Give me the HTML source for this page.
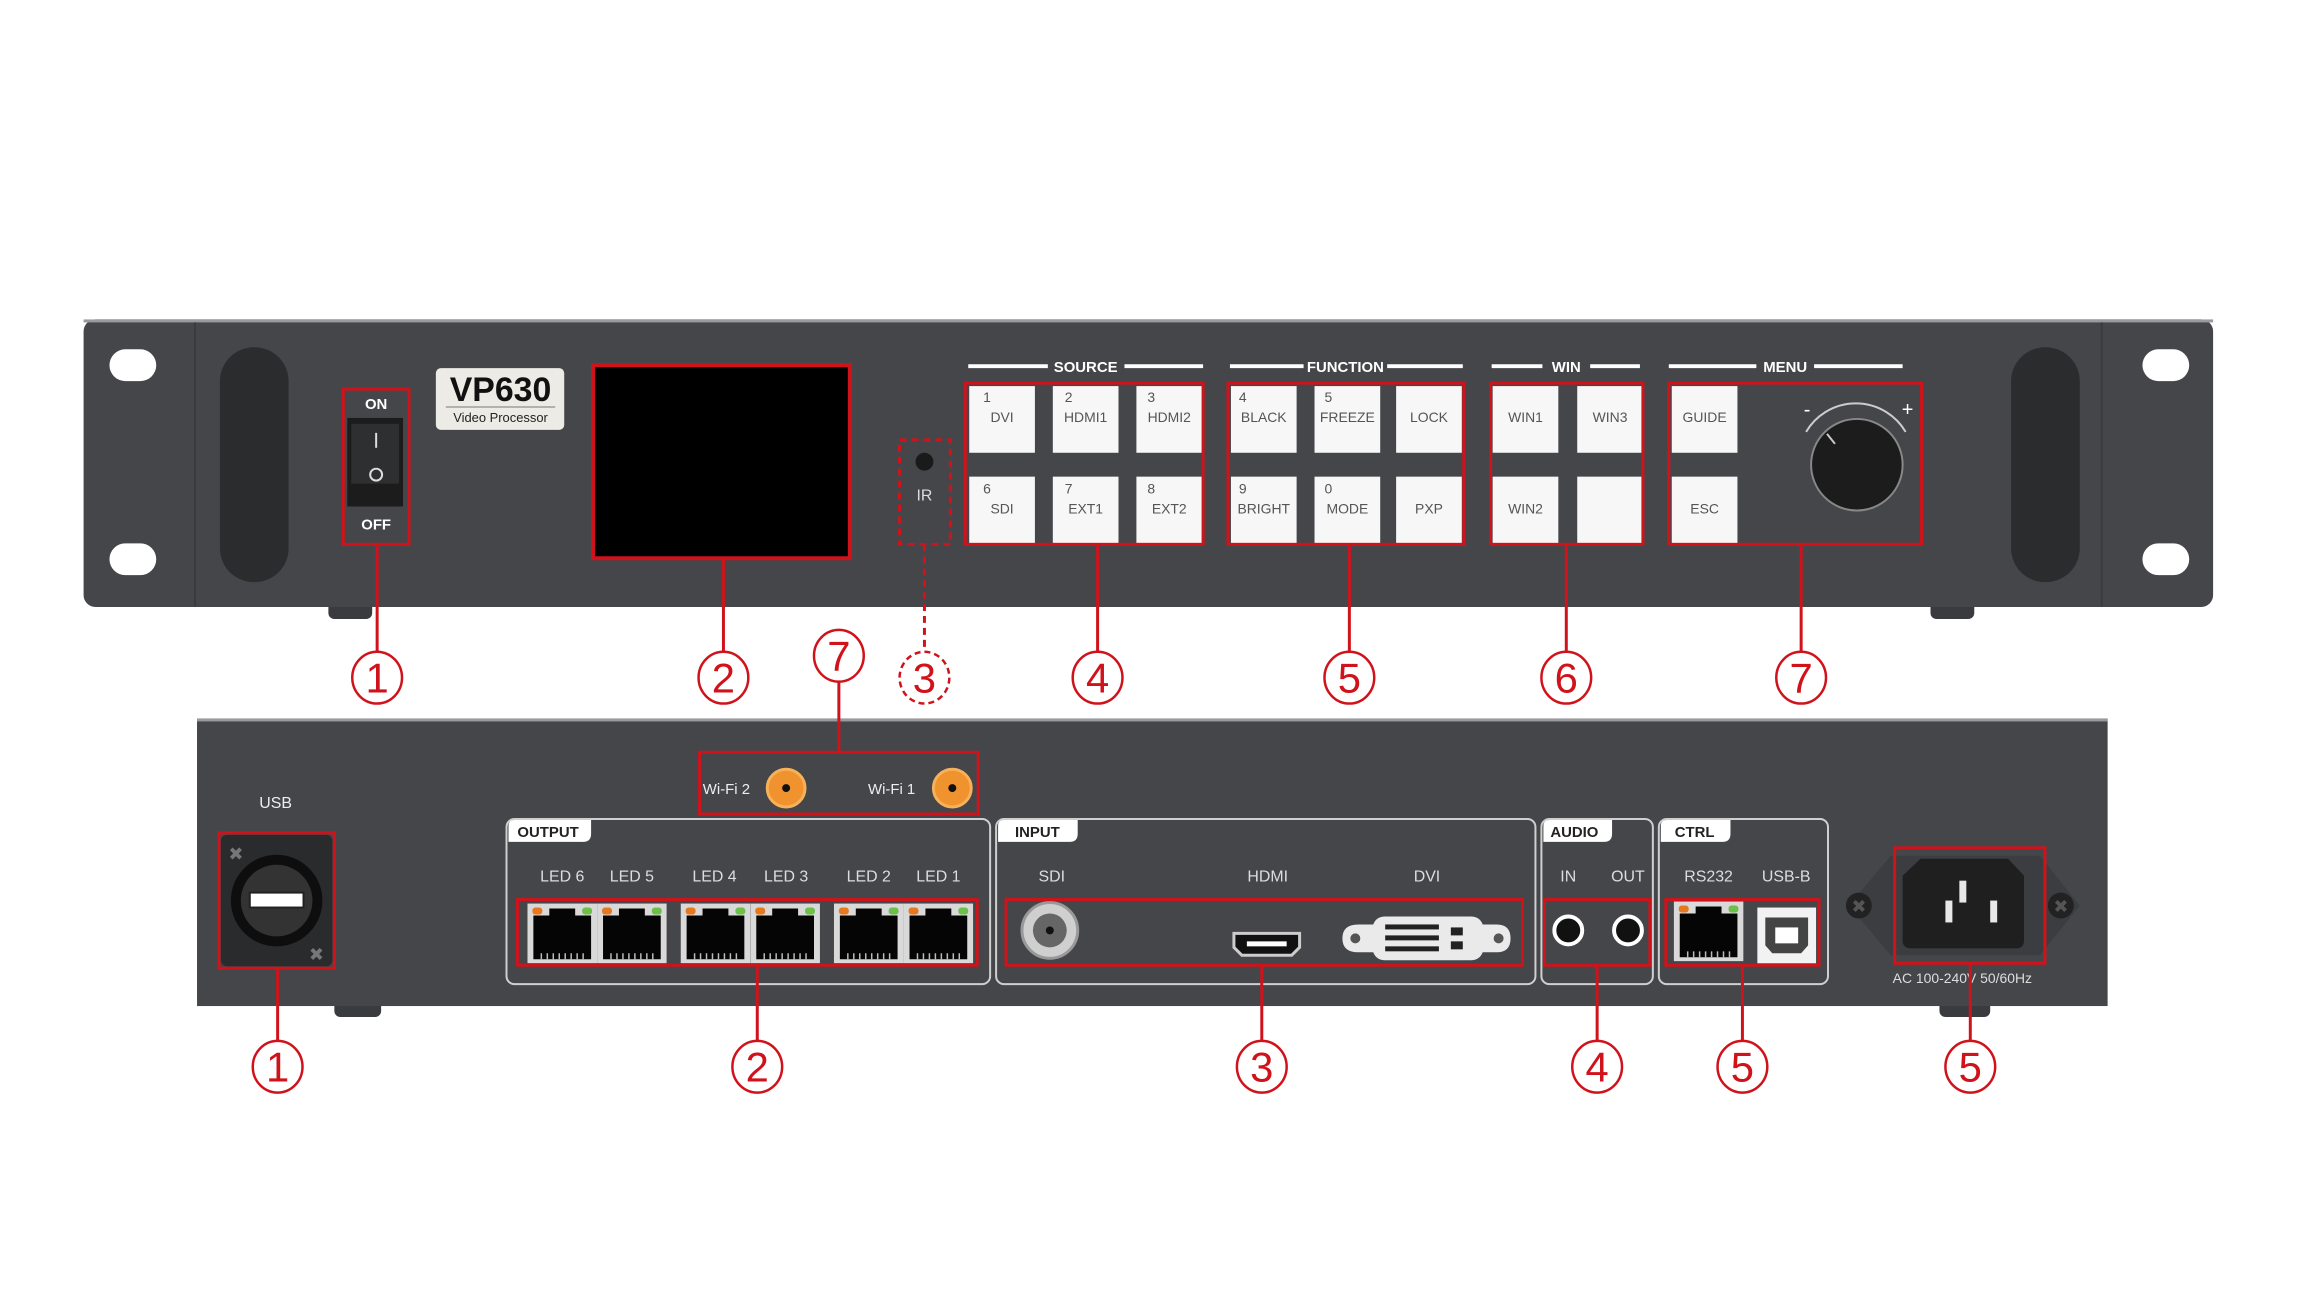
<!DOCTYPE html>
<html><head><meta charset="utf-8"><style>
html,body{margin:0;padding:0;background:#fff;}
svg{display:block;}
text{font-family:"Liberation Sans",sans-serif;}
</style></head><body>
<svg width="2300" height="1310" viewBox="0 0 2300 1310" xmlns="http://www.w3.org/2000/svg">
<defs>
<symbol id="rj" viewBox="0 0 70 60">
<rect x="0" y="0" width="70" height="60" fill="#d9d9d9"/>
<path d="M6 12 H22 V5 H48 V12 H64 V56 H6 Z" fill="#050505"/>
<rect x="5" y="4" width="10" height="7" rx="3" fill="#e8781e"/>
<rect x="55" y="4" width="10" height="7" rx="3" fill="#6cc04a"/>
<g stroke="#bbb" stroke-width="1.5"><line x1="14" y1="50" x2="14" y2="56"/><line x1="20" y1="50" x2="20" y2="56"/><line x1="26" y1="50" x2="26" y2="56"/><line x1="32" y1="50" x2="32" y2="56"/><line x1="38" y1="50" x2="38" y2="56"/><line x1="44" y1="50" x2="44" y2="56"/><line x1="50" y1="50" x2="50" y2="56"/><line x1="56" y1="50" x2="56" y2="56"/></g>
</symbol>
</defs>
<g transform="scale(0.9951)">
<!-- FRONT PANEL -->
<rect x="330" y="600" width="44" height="22" rx="6" fill="#3a3b3e"/>
<rect x="1940" y="600" width="44" height="22" rx="6" fill="#3a3b3e"/>
<rect x="84" y="321" width="2140" height="289" rx="12" fill="#45464a"/>
<rect x="84" y="321" width="2140" height="3" fill="#9a9a9c"/>
<line x1="196" y1="324" x2="196" y2="610" stroke="#3a3b3e" stroke-width="2"/>
<line x1="2112" y1="324" x2="2112" y2="610" stroke="#3a3b3e" stroke-width="2"/>
<g fill="#fff"><rect x="110" y="351" width="47" height="32" rx="16"/><rect x="110" y="546" width="47" height="32" rx="16"/><rect x="2153" y="351" width="47" height="32" rx="16"/><rect x="2153" y="546" width="47" height="32" rx="16"/></g>
<rect x="221" y="349" width="69" height="236" rx="34" fill="#2b2c2e"/>
<rect x="2021" y="349" width="69" height="236" rx="34" fill="#2b2c2e"/>

<!-- switch -->
<text x="378" y="411" font-size="15" font-weight="bold" fill="#fff" text-anchor="middle">ON</text>
<rect x="349" y="420" width="56" height="89" fill="#1c1c1d"/>
<rect x="353" y="426" width="48" height="60" fill="#2e2f31"/>
<line x1="378" y1="435" x2="378" y2="450" stroke="#ddd" stroke-width="2"/>
<circle cx="378" cy="477" r="6" fill="none" stroke="#ddd" stroke-width="2"/>
<text x="378" y="532" font-size="15" font-weight="bold" fill="#fff" text-anchor="middle">OFF</text>
<rect x="345" y="391" width="66" height="156" fill="none" stroke="#d0121b" stroke-width="3"/>

<!-- logo -->
<rect x="438" y="370" width="129" height="62" rx="5" fill="#ecebe6"/>
<text x="503" y="403" font-family="Liberation Serif,serif" font-size="34" font-weight="bold" fill="#111" text-anchor="middle">VP630</text>
<line x1="448" y1="409" x2="558" y2="409" stroke="#777" stroke-width="1"/>
<text x="503" y="424" font-family="Liberation Serif,serif" font-size="13" fill="#222" text-anchor="middle">Video Processor</text>

<!-- screen -->
<rect x="596" y="367" width="258" height="194" fill="#000" stroke="#d0121b" stroke-width="4"/>

<!-- IR -->
<circle cx="929" cy="464" r="9" fill="#1a1a1a"/>
<text x="929" y="503" font-size="16" fill="#ddd" text-anchor="middle">IR</text>
<rect x="904" y="442" width="51" height="105" fill="none" stroke="#d0121b" stroke-width="3" stroke-dasharray="7,5"/>

<!-- section headings -->
<g stroke="#fff" stroke-width="4">
<line x1="973" y1="368" x2="1053" y2="368"/><line x1="1130" y1="368" x2="1209" y2="368"/>
<line x1="1236" y1="368" x2="1310" y2="368"/><line x1="1394" y1="368" x2="1470" y2="368"/>
<line x1="1499" y1="368" x2="1550" y2="368"/><line x1="1598" y1="368" x2="1648" y2="368"/>
<line x1="1677" y1="368" x2="1765" y2="368"/><line x1="1823" y1="368" x2="1912" y2="368"/>
</g>
<g font-size="15" font-weight="bold" fill="#fff" text-anchor="middle">
<text x="1091" y="374">SOURCE</text><text x="1352" y="374">FUNCTION</text><text x="1574" y="374">WIN</text><text x="1794" y="374">MENU</text>
</g>

<!-- buttons -->
<g fill="#f7f7f7">
<rect x="974" y="388" width="66" height="67"/><rect x="1058" y="388" width="66" height="67"/><rect x="1142" y="388" width="66" height="67"/>
<rect x="974" y="479" width="66" height="67"/><rect x="1058" y="479" width="66" height="67"/><rect x="1142" y="479" width="66" height="67"/>
<rect x="1237" y="388" width="66" height="67"/><rect x="1321" y="388" width="66" height="67"/><rect x="1403" y="388" width="66" height="67"/>
<rect x="1237" y="479" width="66" height="67"/><rect x="1321" y="479" width="66" height="67"/><rect x="1403" y="479" width="66" height="67"/>
<rect x="1500" y="388" width="66" height="67"/><rect x="1585" y="388" width="66" height="67"/>
<rect x="1500" y="479" width="66" height="67"/><rect x="1585" y="479" width="66" height="67"/>
<rect x="1680" y="388" width="66" height="67"/><rect x="1680" y="479" width="66" height="67"/>
</g>
<g font-size="14" fill="#555">
<text x="988" y="404">1</text><text x="1070" y="404">2</text><text x="1153" y="404">3</text>
<text x="988" y="496">6</text><text x="1070" y="496">7</text><text x="1153" y="496">8</text>
<text x="1245" y="404">4</text><text x="1331" y="404">5</text>
<text x="1245" y="496">9</text><text x="1331" y="496">0</text>
</g>
<g font-size="14" fill="#555" text-anchor="middle">
<text x="1007" y="424">DVI</text><text x="1091" y="424">HDMI1</text><text x="1175" y="424">HDMI2</text>
<text x="1007" y="516">SDI</text><text x="1091" y="516">EXT1</text><text x="1175" y="516">EXT2</text>
<text x="1270" y="424">BLACK</text><text x="1354" y="424">FREEZE</text><text x="1436" y="424">LOCK</text>
<text x="1270" y="516">BRIGHT</text><text x="1354" y="516">MODE</text><text x="1436" y="516">PXP</text>
<text x="1533" y="424">WIN1</text><text x="1618" y="424">WIN3</text>
<text x="1533" y="516">WIN2</text>
<text x="1713" y="424">GUIDE</text><text x="1713" y="516">ESC</text>
</g>
<!-- knob -->
<path d="M1815 434 A58 58 0 0 1 1915 434" fill="none" stroke="#ccc" stroke-width="2"/>
<text x="1816" y="418" font-size="20" fill="#fff" text-anchor="middle">-</text>
<text x="1917" y="418" font-size="20" fill="#fff" text-anchor="middle">+</text>
<circle cx="1866" cy="467" r="46" fill="#1c1c1d" stroke="#888" stroke-width="2"/>
<line x1="1836" y1="436" x2="1844" y2="446" stroke="#ccc" stroke-width="2"/>

<g fill="none" stroke="#d0121b" stroke-width="3">
<rect x="970" y="385" width="239" height="162"/>
<rect x="1234" y="385" width="237" height="162"/>
<rect x="1498" y="385" width="153" height="162"/>
<rect x="1677" y="385" width="254" height="162"/>
</g>

<!-- REAR PANEL -->
<rect x="336" y="1000" width="47" height="22" rx="6" fill="#3a3b3e"/>
<rect x="1949" y="1000" width="51" height="22" rx="6" fill="#3a3b3e"/>
<rect x="198" y="722" width="1920" height="289" fill="#45464a"/>
<rect x="198" y="722" width="1920" height="3" fill="#9a9a9c"/>

<text x="277" y="812" font-size="16" fill="#eee" text-anchor="middle">USB</text>
<rect x="222" y="839" width="112" height="132" rx="6" fill="#2a2b2d"/>
<circle cx="278" cy="905" r="46" fill="#0e0e0e"/>
<circle cx="278" cy="905" r="36" fill="#333"/>
<rect x="251" y="897" width="54" height="15" fill="#fff" stroke="#222" stroke-width="2"/>
<text x="237" y="864" font-size="18" fill="#777" text-anchor="middle">✖</text>
<text x="318" y="965" font-size="18" fill="#777" text-anchor="middle">✖</text>
<rect x="220" y="837" width="116" height="136" fill="none" stroke="#d0121b" stroke-width="3"/>

<!-- wifi -->
<text x="730" y="798" font-size="15" fill="#eee" text-anchor="middle">Wi-Fi 2</text>
<text x="896" y="798" font-size="15" fill="#eee" text-anchor="middle">Wi-Fi 1</text>
<circle cx="790" cy="792" r="19" fill="#f0922e" stroke="#f6b25a" stroke-width="3"/><circle cx="790" cy="792" r="4" fill="#111"/>
<circle cx="957" cy="792" r="19" fill="#f0922e" stroke="#f6b25a" stroke-width="3"/><circle cx="957" cy="792" r="4" fill="#111"/>
<rect x="703" y="756" width="280" height="62" fill="none" stroke="#d0121b" stroke-width="3"/>

<!-- groups -->
<g fill="none" stroke="#cfcfcf" stroke-width="2">
<rect x="509" y="823" width="486" height="166" rx="8"/>
<rect x="1001" y="823" width="542" height="166" rx="8"/>
<rect x="1549" y="823" width="112" height="166" rx="8"/>
<rect x="1667" y="823" width="170" height="166" rx="8"/>
</g>
<g fill="#fff">
<path d="M511 846 V830 Q511 824 517 824 H594 V838 Q594 846 586 846 Z"/>
<path d="M1003 846 V830 Q1003 824 1009 824 H1083 V838 Q1083 846 1075 846 Z"/>
<path d="M1551 846 V830 Q1551 824 1557 824 H1620 V838 Q1620 846 1612 846 Z"/>
<path d="M1669 846 V830 Q1669 824 1675 824 H1739 V838 Q1739 846 1731 846 Z"/>
</g>
<g font-size="15" font-weight="bold" fill="#222">
<text x="520" y="841">OUTPUT</text><text x="1020" y="841">INPUT</text><text x="1558" y="841">AUDIO</text><text x="1683" y="841">CTRL</text>
</g>
<g font-size="16" fill="#ddd" text-anchor="middle">
<text x="565" y="886">LED 6</text><text x="635" y="886">LED 5</text><text x="718" y="886">LED 4</text><text x="790" y="886">LED 3</text><text x="873" y="886">LED 2</text><text x="943" y="886">LED 1</text>
<text x="1057" y="886">SDI</text><text x="1274" y="886">HDMI</text><text x="1434" y="886">DVI</text>
<text x="1576" y="886">IN</text><text x="1636" y="886">OUT</text>
<text x="1717" y="886">RS232</text><text x="1795" y="886">USB-B</text>
</g>
<use href="#rj" x="530" y="908" width="70" height="60"/><use href="#rj" x="600" y="908" width="70" height="60"/>
<use href="#rj" x="684" y="908" width="70" height="60"/><use href="#rj" x="754" y="908" width="70" height="60"/>
<use href="#rj" x="838" y="908" width="70" height="60"/><use href="#rj" x="908" y="908" width="70" height="60"/>
<use href="#rj" x="1682" y="906" width="70" height="60"/>
<rect x="520" y="904" width="462" height="66" fill="none" stroke="#d0121b" stroke-width="3"/>

<!-- SDI -->
<circle cx="1055" cy="935" r="28" fill="#cfcfcf" stroke="#999" stroke-width="3"/>
<circle cx="1055" cy="935" r="17" fill="#666"/><circle cx="1055" cy="935" r="4" fill="#111"/>
<!-- HDMI -->
<path d="M1240 938 H1306 V952 L1298 960 H1248 L1240 952 Z" fill="#111" stroke="#ccc" stroke-width="3"/>
<rect x="1253" y="946" width="40" height="5" fill="#fff"/>
<!-- DVI -->
<path d="M1349 943 Q1349 929 1365 929 H1380 Q1383 921 1392 921 H1478 Q1487 921 1490 929 H1504 Q1518 929 1518 943 Q1518 957 1504 957 H1490 Q1487 965 1478 965 H1392 Q1383 965 1380 957 H1365 Q1349 957 1349 943 Z" fill="#eaeaea"/>
<circle cx="1362" cy="943" r="5" fill="#555"/><circle cx="1506" cy="943" r="5" fill="#555"/>
<g fill="#222"><rect x="1392" y="929" width="54" height="5"/><rect x="1392" y="940" width="54" height="5"/><rect x="1392" y="951" width="54" height="5"/><rect x="1458" y="932" width="12" height="8"/><rect x="1458" y="946" width="12" height="8"/></g>
<rect x="1011" y="904" width="519" height="66" fill="none" stroke="#d0121b" stroke-width="3"/>

<!-- audio -->
<circle cx="1576" cy="935" r="14" fill="#111" stroke="#fff" stroke-width="4"/>
<circle cx="1636" cy="935" r="14" fill="#111" stroke="#fff" stroke-width="4"/>
<rect x="1552" y="904" width="106" height="66" fill="none" stroke="#d0121b" stroke-width="3"/>

<!-- USB-B -->
<rect x="1766" y="912" width="59" height="56" fill="#f2f2f2"/>
<path d="M1774 922 H1817 V950 L1810 958 H1781 L1774 950 Z" fill="#444"/>
<rect x="1784" y="932" width="23" height="16" fill="#fff"/>
<rect x="1674" y="904" width="154" height="66" fill="none" stroke="#d0121b" stroke-width="3"/>

<!-- power -->
<path d="M1858 910 L1900 860 H2050 L2090 910 L2050 960 H1900 Z" fill="#3c3d40"/>
<circle cx="1868" cy="910" r="13" fill="#222"/><text x="1868" y="917" font-size="18" fill="#555" text-anchor="middle">✖</text>
<circle cx="2071" cy="910" r="13" fill="#222"/><text x="2071" y="917" font-size="18" fill="#555" text-anchor="middle">✖</text>
<path d="M1930 863 H2018 L2034 880 V945 Q2034 953 2026 953 H1920 Q1912 953 1912 945 V880 Z" fill="#1f1f20"/>
<g fill="#e8e8e8"><rect x="1955" y="905" width="7" height="22"/><rect x="1969" y="885" width="7" height="22"/><rect x="2000" y="905" width="7" height="22"/></g>
<rect x="1904" y="852" width="151" height="116" fill="none" stroke="#d0121b" stroke-width="3"/>
<text x="1972" y="988" font-size="14" fill="#ddd" text-anchor="middle">AC 100-240V 50/60Hz</text>

<!-- CONNECTOR LINES -->
<g stroke="#d0121b" stroke-width="3" fill="none">
<line x1="379" y1="547" x2="379" y2="655"/>
<line x1="727" y1="561" x2="727" y2="655"/>
<line x1="1103" y1="547" x2="1103" y2="655"/>
<line x1="1356" y1="547" x2="1356" y2="655"/>
<line x1="1574" y1="547" x2="1574" y2="655"/>
<line x1="1810" y1="547" x2="1810" y2="655"/>
<line x1="843" y1="685" x2="843" y2="756"/>
<line x1="279" y1="973" x2="279" y2="1046"/>
<line x1="761" y1="970" x2="761" y2="1046"/>
<line x1="1268" y1="970" x2="1268" y2="1046"/>
<line x1="1605" y1="970" x2="1605" y2="1046"/>
<line x1="1751" y1="970" x2="1751" y2="1046"/>
<line x1="1980" y1="968" x2="1980" y2="1046"/>
</g>
<line x1="929" y1="547" x2="929" y2="655" stroke="#d0121b" stroke-width="3" stroke-dasharray="7,5"/>

<!-- CIRCLED NUMBERS -->
<g fill="#fff" stroke="#d0121b" stroke-width="2.5">
<ellipse cx="379" cy="681" rx="25" ry="26"/><ellipse cx="727" cy="681" rx="25" ry="26"/>
<ellipse cx="1103" cy="681" rx="25" ry="26"/><ellipse cx="1356" cy="681" rx="25" ry="26"/><ellipse cx="1574" cy="681" rx="25" ry="26"/><ellipse cx="1810" cy="681" rx="25" ry="26"/>
<ellipse cx="843" cy="659" rx="25" ry="26"/>
<ellipse cx="279" cy="1072" rx="25" ry="26"/><ellipse cx="761" cy="1072" rx="25" ry="26"/><ellipse cx="1268" cy="1072" rx="25" ry="26"/><ellipse cx="1605" cy="1072" rx="25" ry="26"/><ellipse cx="1751" cy="1072" rx="25" ry="26"/><ellipse cx="1980" cy="1072" rx="25" ry="26"/>
</g>
<ellipse cx="929" cy="681" rx="25" ry="26" fill="#fff" stroke="#d0121b" stroke-width="2.5" stroke-dasharray="6,4"/>
<g font-size="42" fill="#d0121b" text-anchor="middle">
<text x="379" y="696">1</text><text x="727" y="696">2</text><text x="929" y="696">3</text><text x="1103" y="696">4</text><text x="1356" y="696">5</text><text x="1574" y="696">6</text><text x="1810" y="696">7</text>
<text x="843" y="674">7</text>
<text x="279" y="1087">1</text><text x="761" y="1087">2</text><text x="1268" y="1087">3</text><text x="1605" y="1087">4</text><text x="1751" y="1087">5</text><text x="1980" y="1087">5</text>
</g>
</g>
</svg>
</body></html>
